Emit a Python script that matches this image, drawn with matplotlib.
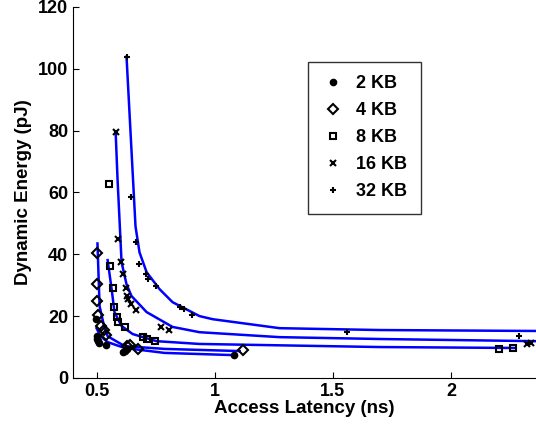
import matplotlib
matplotlib.use('Agg')
import matplotlib.pyplot as plt
from matplotlib.lines import Line2D

# measured points (access latency ns, dynamic energy pJ)
kb2_x = [0.496, 0.500, 0.503, 0.507, 0.510, 0.542, 0.610, 0.620, 0.630, 1.080]
kb2_y = [19.0, 13.5, 12.5, 11.8, 11.2, 10.6, 8.4, 8.6, 9.4, 7.4]
kb4_x = [0.500, 0.500, 0.504, 0.508, 0.521, 0.533, 0.542, 0.627, 0.640, 0.674, 1.118]
kb4_y = [40.3, 30.4, 25.0, 20.3, 16.9, 15.5, 13.8, 10.3, 10.8, 9.4, 9.0]
kb8_x = [0.551, 0.559, 0.568, 0.576, 0.585, 0.589, 0.619, 0.695, 0.712, 0.746, 2.203, 2.263]
kb8_y = [62.6, 36.1, 29.0, 22.9, 19.7, 18.1, 16.5, 13.2, 12.6, 11.9, 9.4, 9.7]
kb16_x = [0.581, 0.593, 0.602, 0.611, 0.623, 0.630, 0.632, 0.644, 0.669, 0.771, 0.805, 2.32, 2.34]
kb16_y = [79.4, 44.8, 37.4, 33.5, 29.0, 26.5, 25.5, 23.9, 21.9, 16.5, 15.5, 11.0, 11.3]
kb32_x = [0.627, 0.644, 0.665, 0.678, 0.708, 0.716, 0.750, 0.852, 0.869, 0.902, 1.56, 2.29]
kb32_y = [103.9, 58.4, 43.9, 36.8, 33.5, 32.0, 29.7, 22.9, 22.2, 20.3, 14.8, 13.5]

# fitted curves
fit2_x = [0.500, 0.517, 0.547, 0.619, 0.788, 1.076]
fit2_y = [16.1, 13.5, 11.6, 9.7, 8.1, 7.4]
fit4_x = [0.504, 0.513, 0.530, 0.547, 0.619, 0.788, 1.106]
fit4_y = [43.5, 23.2, 17.4, 13.5, 10.3, 9.4, 8.7]
fit8_x = [0.547, 0.564, 0.576, 0.606, 0.653, 0.754, 0.936, 1.699, 2.27]
fit8_y = [38.1, 28.7, 21.3, 16.8, 14.2, 11.9, 11.0, 10.0, 9.7]
fit16_x = [0.581, 0.589, 0.606, 0.627, 0.648, 0.712, 0.822, 0.936, 1.275, 1.699, 2.36]
fit16_y = [79.4, 64.2, 37.4, 30.3, 26.5, 21.3, 16.5, 14.8, 13.2, 12.6, 11.9]
fit32_x = [0.627, 0.665, 0.682, 0.712, 0.767, 0.822, 0.936, 0.992, 1.275, 1.699, 2.36]
fit32_y = [103.9, 49.0, 40.6, 34.2, 28.7, 24.5, 20.0, 19.0, 16.1, 15.5, 15.2]

labels = ['2 KB', '4 KB', '8 KB', '16 KB', '32 KB']
markers = ['o', 'D', 's', 'x', '+']
msizes = [4, 5, 5, 4, 5]

plt.rcParams['font.family'] = ['Liberation Sans', 'DejaVu Sans']
plt.rcParams['font.weight'] = 'bold'

fig = plt.figure(figsize=(5.36, 4.3), dpi=100)
ax = fig.add_axes([0.136, 0.121, 0.864, 0.863])

pts = [(kb2_x, kb2_y), (kb4_x, kb4_y), (kb8_x, kb8_y), (kb16_x, kb16_y), (kb32_x, kb32_y)]
fits = [(fit2_x, fit2_y), (fit4_x, fit4_y), (fit8_x, fit8_y), (fit16_x, fit16_y), (fit32_x, fit32_y)]

for (fx, fy) in fits:
    ax.plot(fx, fy, color='#0000ff', lw=1.8, zorder=2)

handles = []
for (px, py), m, ms, lab in zip(pts, markers, msizes, labels):
    filled = m == 'o'
    ax.plot(px, py, ls='none', marker=m, ms=ms, mec='black',
            mfc='black' if filled else 'none', mew=1.5, zorder=3)
    handles.append(Line2D([], [], ls='none', marker=m, ms=ms, mec='black',
                          mfc='black' if filled else 'none', mew=1.5, label=lab))

ax.set_xlim(0.4, 2.36)
ax.set_ylim(0, 120)
ax.set_xticks([0.5, 1, 1.5, 2])
ax.set_xticklabels(['0.5', '1', '1.5', '2'])
ax.set_yticks([0, 20, 40, 60, 80, 100, 120])
ax.tick_params(direction='in', length=4, labelsize=13, width=0.8)
ax.spines['top'].set_visible(False)
ax.spines['right'].set_visible(False)
ax.set_xlabel('Access Latency (ns)', fontsize=13.5, fontweight='bold', labelpad=0)
ax.set_ylabel('Dynamic Energy (pJ)', fontsize=13.5, fontweight='bold', labelpad=4)

leg = ax.legend(handles=handles, loc='upper left', bbox_to_anchor=(0.508, 0.852),
                fontsize=13, frameon=True, fancybox=False, borderpad=0.75,
                labelspacing=0.55, handlelength=1.3, handletextpad=0.6,
                borderaxespad=0)
leg.get_frame().set_edgecolor('black')
leg.get_frame().set_linewidth(1.0)
for t in leg.get_texts():
    t.set_fontweight('bold')

fig.savefig('out.png', dpi=100)
